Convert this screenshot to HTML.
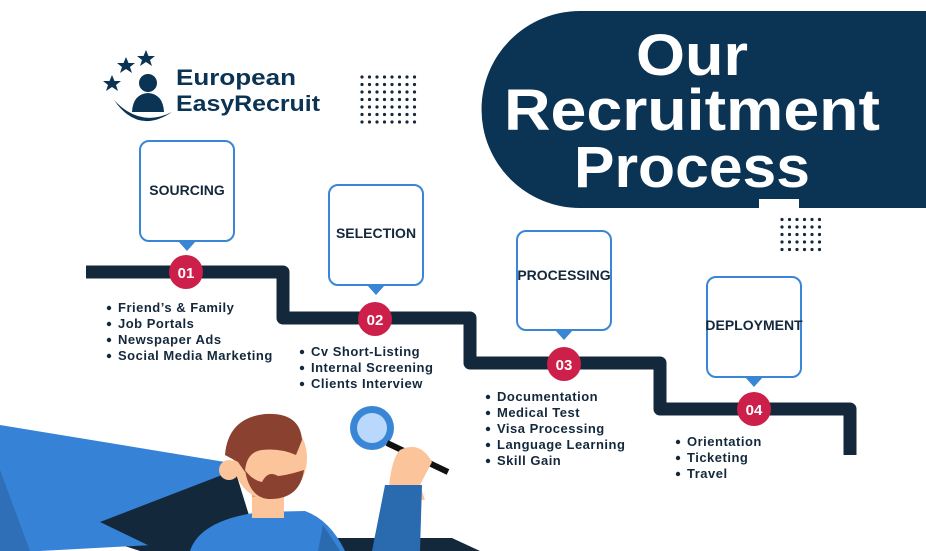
<!DOCTYPE html>
<html><head><meta charset="utf-8"><style>
html,body{margin:0;padding:0;background:#fff;}
svg{display:block;font-family:"Liberation Sans",sans-serif;}
.b{font-size:13px;font-weight:bold;fill:#14283c;letter-spacing:0.5px;}
.lbl{font-size:14px;font-weight:bold;fill:#14283c;}
.num{font-size:15px;font-weight:bold;fill:#fff;}
</style></head><body>
<svg width="926" height="551" viewBox="0 0 926 551" xmlns="http://www.w3.org/2000/svg">
<defs>
<pattern id="dots" x="0" y="0" width="7.5" height="7.5" patternUnits="userSpaceOnUse"><circle cx="2" cy="2" r="1.6" fill="#14283c"/></pattern>
</defs>
<path d="M580 11 H926 V208 H580 A98.5 98.5 0 0 1 580 11 Z" fill="#0a3354"/>
<rect x="759" y="199" width="40" height="12" fill="#fff"/>
<text x="692" y="75" text-anchor="middle" fill="#fff" font-size="58" font-weight="bold" textLength="112" lengthAdjust="spacingAndGlyphs">Our</text>
<text x="692" y="130" text-anchor="middle" fill="#fff" font-size="58" font-weight="bold" textLength="376" lengthAdjust="spacingAndGlyphs">Recruitment</text>
<text x="692" y="187" text-anchor="middle" fill="#fff" font-size="58" font-weight="bold" textLength="236" lengthAdjust="spacingAndGlyphs">Process</text>
<rect x="359" y="72" width="60" height="52" fill="url(#dots)"/>
<rect x="778" y="215" width="45" height="38" fill="url(#dots)"/>
<g fill="#0a3354">
<polygon points="126,57 128.5,63 135,63 130,67 132,73 126,69 120,73 122,67 117,63 123.5,63"/>
<polygon points="146,50 148.5,56 155,56 150,60 152,66 146,62 140,66 142,60 137,56 143.5,56"/>
<polygon points="112,75 114.5,81 121,81 116,85 118,91 112,87 106,91 108,85 103,81 109.5,81"/>
<circle cx="148" cy="83" r="9"/>
<path d="M132 112 Q133 94 148 93 Q163 94 164 112 Z"/>
<path d="M114 100 Q138 135 172 112 Q140 128 114 100 Z"/>
<text x="176" y="85" font-size="22" font-weight="bold" textLength="120" lengthAdjust="spacingAndGlyphs">European</text>
<text x="176" y="111" font-size="22" font-weight="bold" textLength="144" lengthAdjust="spacingAndGlyphs">EasyRecruit</text>
</g>
<path d="M86 272 H283 V318 H470 V363 H660 V409 H850 V455" fill="none" stroke="#14283c" stroke-width="13" stroke-linejoin="round"/>
<g fill="#fff" stroke="#3a86d6" stroke-width="2">
<rect x="140" y="141" width="94" height="100" rx="9"/>
<rect x="329" y="185" width="94" height="100" rx="9"/>
<rect x="517" y="231" width="94" height="99" rx="9"/>
<rect x="707" y="277" width="94" height="100" rx="9"/>
</g>
<g fill="#3a86d6">
<polygon points="178,241 196,241 187,251"/>
<polygon points="367,285 385,285 376,295"/>
<polygon points="555,330 573,330 564,340"/>
<polygon points="745,377 763,377 754,387"/>
</g>
<text class="lbl" x="187" y="195" text-anchor="middle">SOURCING</text>
<text class="lbl" x="376" y="238" text-anchor="middle">SELECTION</text>
<text class="lbl" x="564" y="280" text-anchor="middle">PROCESSING</text>
<text class="lbl" x="754" y="330" text-anchor="middle">DEPLOYMENT</text>
<g fill="#cc1f4a">
<circle cx="186" cy="272" r="17"/><circle cx="375" cy="319" r="17"/>
<circle cx="564" cy="364" r="17"/><circle cx="754" cy="409" r="17"/>
</g>
<text class="num" x="186" y="278" text-anchor="middle">01</text>
<text class="num" x="375" y="325" text-anchor="middle">02</text>
<text class="num" x="564" y="370" text-anchor="middle">03</text>
<text class="num" x="754" y="415" text-anchor="middle">04</text>
<g fill="#14283c">
<circle cx="109" cy="308" r="2.2"/><circle cx="109" cy="324" r="2.2"/><circle cx="109" cy="340" r="2.2"/><circle cx="109" cy="356" r="2.2"/>
<circle cx="302" cy="352" r="2.2"/><circle cx="302" cy="368" r="2.2"/><circle cx="302" cy="384" r="2.2"/>
<circle cx="488" cy="397" r="2.2"/><circle cx="488" cy="413" r="2.2"/><circle cx="488" cy="429" r="2.2"/><circle cx="488" cy="445" r="2.2"/><circle cx="488" cy="461" r="2.2"/>
<circle cx="678" cy="442" r="2.2"/><circle cx="678" cy="458" r="2.2"/><circle cx="678" cy="474" r="2.2"/>
</g>
<g class="b">
<text x="118" y="312">Friend’s &amp; Family</text>
<text x="118" y="328">Job Portals</text>
<text x="118" y="344">Newspaper Ads</text>
<text x="118" y="360">Social Media Marketing</text>
<text x="311" y="356">Cv Short-Listing</text>
<text x="311" y="372">Internal Screening</text>
<text x="311" y="388">Clients Interview</text>
<text x="497" y="401">Documentation</text>
<text x="497" y="417">Medical Test</text>
<text x="497" y="433">Visa Processing</text>
<text x="497" y="449">Language Learning</text>
<text x="497" y="465">Skill Gain</text>
<text x="687" y="446">Orientation</text>
<text x="687" y="462">Ticketing</text>
<text x="687" y="478">Travel</text>
</g>
<polygon points="100,538 140,551 480,551 452,538 300,538" fill="#14283c"/>
<polygon points="0,425 225,462 245,540 40,551 0,551" fill="#3582d6"/>
<polygon points="100,522 235,470 260,551 160,551" fill="#14283c"/>
<polygon points="0,470 30,551 0,551" fill="#2e6fb8"/>
<path d="M190 551 Q200 520 260 512 L305 511 Q330 520 345 551 Z" fill="#3582d6"/>
<path d="M318 551 L323 525 L340 551 Z" fill="#2a6bb0"/>
<rect x="252" y="490" width="32" height="28" fill="#fbc49b"/>
<rect x="252" y="492" width="32" height="5" fill="#f59c5a"/>
<ellipse cx="270" cy="458" rx="37" ry="42" fill="#fbc49b"/>
<circle cx="229" cy="470" r="10" fill="#fbc49b"/>
<path d="M225 455 Q228 418 265 414 Q300 412 302 440 L296 455 Q280 448 262 450 Q246 452 245 472 L238 462 Z" fill="#8a4130"/>
<path d="M245 470 Q250 500 272 499 Q300 498 304 470 Q288 475 278 476 Q268 470 262 482 Q252 480 245 470 Z" fill="#8a4130"/>
<circle cx="372" cy="428" r="22" fill="#3a86d6"/>
<circle cx="372" cy="428" r="15" fill="#b9d8fb"/>
<line x1="387" y1="443" x2="448" y2="472" stroke="#111" stroke-width="6"/>
<path d="M388 500 Q390 460 400 450 Q420 440 432 462 L420 485 L425 500 Z" fill="#fbc49b"/>
<path d="M385 485 L422 485 L420 551 L372 551 Z" fill="#2a6bb0"/>
</svg>
</body></html>
